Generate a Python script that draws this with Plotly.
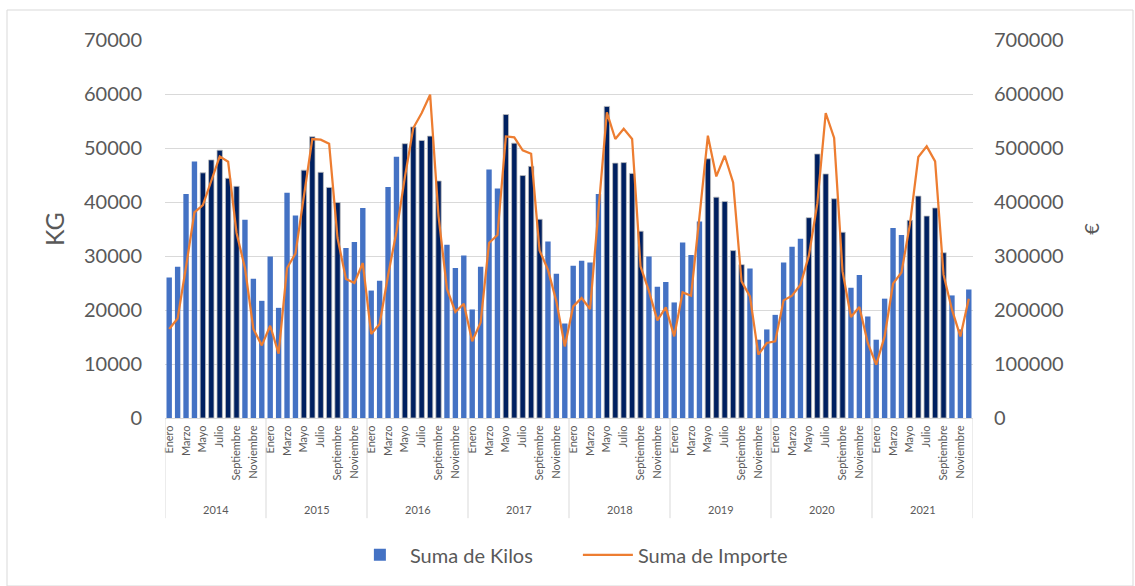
import plotly.graph_objects as go

# Monthly totals, January 2014 - December 2021
years = ["2014", "2015", "2016", "2017", "2018", "2019", "2020", "2021"]
meses = ["Enero", "Febrero", "Marzo", "Abril", "Mayo", "Junio",
         "Julio", "Agosto", "Septiembre", "Octubre", "Noviembre", "Diciembre"]

kilos_2014 = [26000, 28000, 41500, 47500, 45400, 47800, 49600, 44400, 42900, 36700, 25800, 21700]
kilos_2015 = [29900, 20400, 41700, 37500, 45900, 52100, 45500, 42700, 39900, 31500, 32600, 38900]
kilos_2016 = [23600, 25400, 42800, 48400, 50800, 53900, 51400, 52200, 43900, 32100, 27800, 30100]
kilos_2017 = [20100, 28000, 46000, 42500, 56200, 50900, 44900, 46600, 36800, 32700, 26700, 17500]
kilos_2018 = [28200, 29100, 28800, 41500, 57700, 47200, 47300, 45300, 34600, 29900, 24300, 25200]
kilos_2019 = [21400, 32500, 30200, 36400, 48000, 40900, 40100, 31000, 28400, 27700, 14500, 16400]
kilos_2020 = [19100, 28800, 31700, 33200, 37100, 48900, 45200, 40600, 34400, 24100, 26500, 18800]
kilos_2021 = [14500, 22100, 35200, 33900, 36600, 41100, 37400, 38900, 30600, 22700, 16400, 23800]

importe_2014 = [164800, 184400, 280000, 380800, 394400, 439400, 484500, 474600, 342600, 277800, 164800, 134500]
importe_2015 = [170900, 119100, 277800, 304300, 410000, 516600, 515400, 508000, 333300, 257400, 250000, 287000]
importe_2016 = [155600, 174100, 264000, 345000, 446000, 537000, 564800, 598700, 373400, 238900, 196300, 211700]
importe_2017 = [141900, 177000, 324000, 338900, 521500, 519600, 495600, 489400, 310400, 274600, 216000, 132600]
importe_2018 = [206700, 222200, 201800, 380000, 566000, 516700, 535700, 516700, 280700, 235000, 180700, 204800]
importe_2019 = [151100, 232600, 226500, 373000, 522800, 447400, 485700, 436300, 253000, 225200, 117200, 138900]
importe_2020 = [141900, 217800, 226500, 246900, 300600, 396900, 564800, 518500, 271500, 187000, 205600, 138900]
importe_2021 = [98700, 151100, 248700, 269600, 358000, 483300, 503000, 475200, 265400, 200600, 151100, 220900]

kilos = (kilos_2014 + kilos_2015 + kilos_2016 + kilos_2017 +
         kilos_2018 + kilos_2019 + kilos_2020 + kilos_2021)
importe = (importe_2014 + importe_2015 + importe_2016 + importe_2017 +
           importe_2018 + importe_2019 + importe_2020 + importe_2021)

n = len(kilos)
idx = list(range(n))

# Summer months (May - September) highlighted in dark navy
LIGHT = "#4472C4"
DARK = "#002060"
bar_colors = [DARK if 4 <= i % 12 <= 8 else LIGHT for i in idx]
bar_line_colors = ["#BFBFBF" if 4 <= i % 12 <= 8 else LIGHT for i in idx]
bar_line_widths = [0.8 if 4 <= i % 12 <= 8 else 0 for i in idx]

TEXT = "#595959"
GRID = "#D9D9D9"
FONT = "Lato"

fig = go.Figure()
fig.add_trace(go.Bar(
    x=idx, y=kilos, name="Suma de Kilos",
    marker=dict(color=bar_colors, line=dict(color=bar_line_colors, width=bar_line_widths)),
))
fig.add_trace(go.Scatter(
    x=idx, y=importe, name="Suma de Importe", yaxis="y2", mode="lines",
    line=dict(color="#ED7D31", width=2.25),
))

# every other month labelled
tick_vals = [i for i in idx if i % 2 == 0]
tick_text = [meses[i % 12] for i in tick_vals]

fig.update_layout(
    width=1135, height=586,
    margin=dict(l=165, r=162, t=40, b=168),
    paper_bgcolor="white", plot_bgcolor="white",
    font=dict(family=FONT, color=TEXT),
    bargap=0.36,
    showlegend=True,
    legend=dict(orientation="h", x=0.511, xanchor="center", y=-0.362, yanchor="middle",
                font=dict(size=20, color=TEXT), itemwidth=50, entrywidth=163),
    xaxis=dict(
        range=[-0.5, n - 0.5], tickmode="array", tickvals=tick_vals, ticktext=tick_text,
        tickangle=-90, tickfont=dict(size=11, color=TEXT), showgrid=False,
        showline=True, linecolor=GRID, linewidth=1, ticks="", zeroline=False,
        ticklabelstandoff=2,
    ),
    yaxis=dict(
        range=[0, 70000], dtick=10000, tickformat="d", gridcolor=GRID, gridwidth=1,
        zeroline=False, showline=False, tickfont=dict(size=20, color=TEXT),
        ticklabelstandoff=22,
        title=dict(text="KG", font=dict(size=25, color=TEXT), standoff=12),
    ),
    yaxis2=dict(
        range=[0, 700000], dtick=100000, tickformat="d", overlaying="y", side="right",
        showgrid=False, zeroline=False, showline=False,
        tickfont=dict(size=20, color=TEXT), ticklabelstandoff=20,
        title=dict(text="€", font=dict(size=20, color=TEXT), standoff=22),
    ),
)

# year group separators and labels below the month labels
for k in range(len(years) + 1):
    xb = -0.5 + 12 * k
    fig.add_shape(type="line", xref="x", yref="paper", x0=xb, x1=xb, y0=0, y1=-0.265,
                  line=dict(color=GRID, width=1))
for k, yr in enumerate(years):
    fig.add_annotation(x=5.5 + 12 * k, xref="x", y=-0.243, yref="paper", text=yr,
                       showarrow=False, font=dict(size=11, color=TEXT), yanchor="middle")

# chart frame
fig.add_shape(type="rect", xref="paper", yref="paper",
              x0=(7 - 165) / 808, x1=(1133 - 165) / 808,
              y0=(418 - 586) / 378, y1=(418 - 10) / 378,
              line=dict(color=GRID, width=1), fillcolor="rgba(0,0,0,0)", layer="below")

fig.write_html("out.html")
